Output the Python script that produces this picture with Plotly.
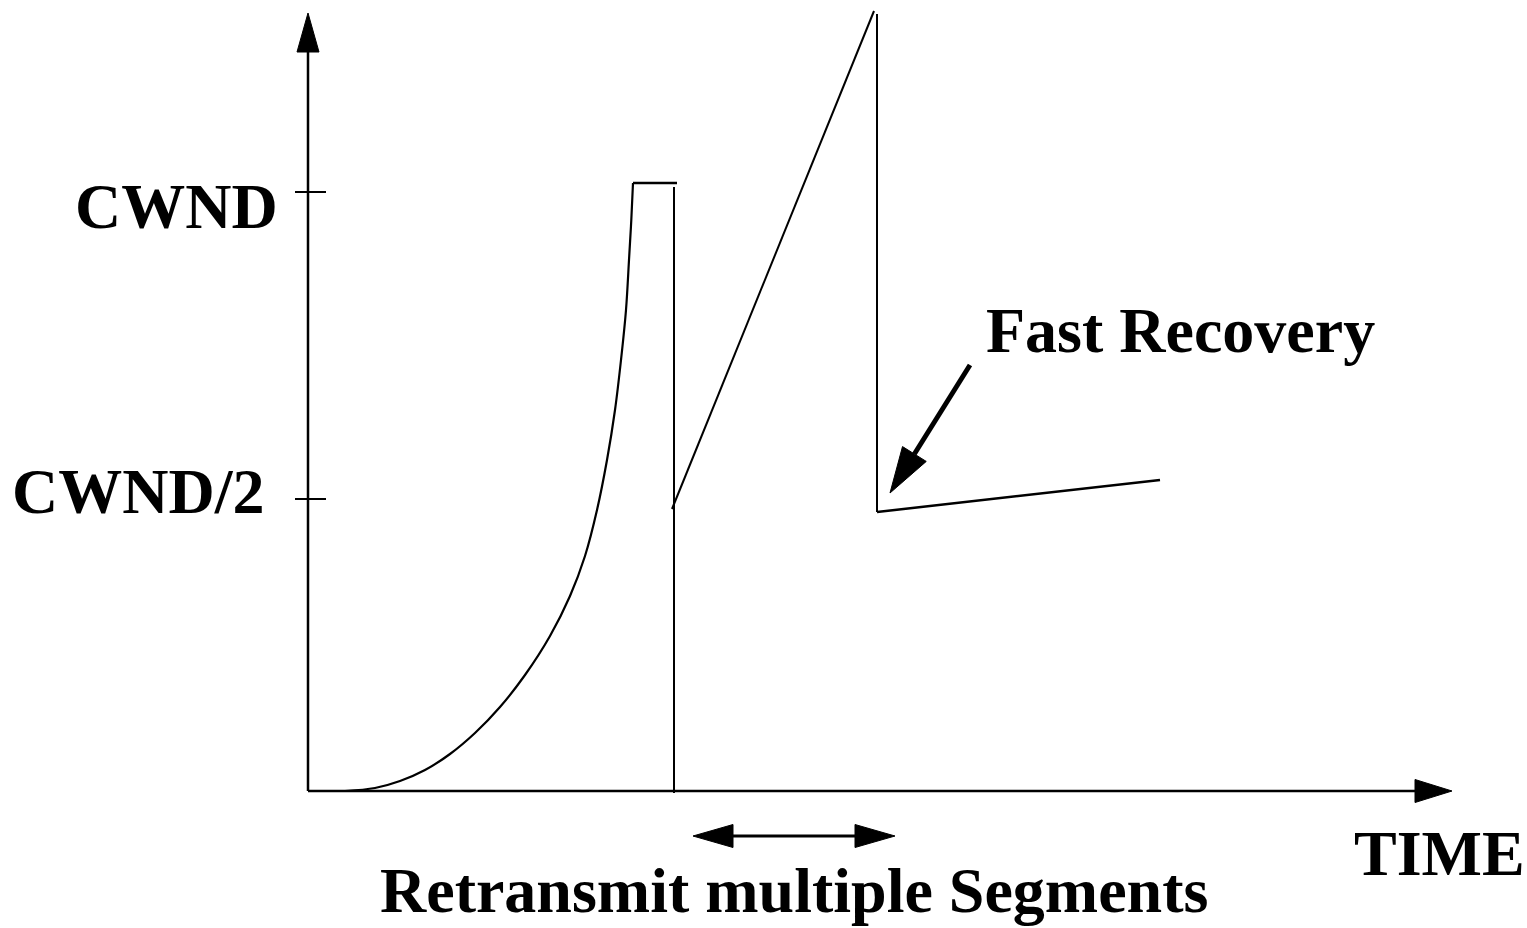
import numpy as np
import plotly.graph_objects as go

# ---------------- data (time units, window units) ----------------
ss_time = [3.7, 6.7, 9.2, 11.7, 14.2, 16.7, 19.2, 21.7, 24.2, 26.2, 27.7, 28.9, 29.9, 30.7, 31.3, 31.8, 32.1, 32.33, 32.5]
ss_cwnd = [0.0, 0.3, 1.0, 2.1, 3.7, 5.8, 8.4, 11.6, 15.5, 19.5, 23.5, 28.1, 33.1, 38.1, 43.1, 48.1, 53.1, 57.1, 60.8]

plateau_time = [32.5, 36.9]
plateau_cwnd = [60.8, 60.8]

timeout_time = [36.6, 36.6]
timeout_cwnd = [60.4, -0.2]

ca_time = [36.4, 56.6]
ca_cwnd = [28.2, 78.0]

drop_time = [56.9, 56.9]
drop_cwnd = [77.7, 27.9]

fr_time = [56.9, 85.2]
fr_cwnd = [27.9, 31.1]

tick_values = [59.9, 29.2]
tick_labels = ["CWND", "CWND/2"]

x_axis_end = 114.4
y_axis_end = 77.8

retx_span = [38.5, 58.7]
retx_level = -4.5

fr_arrow_tail = [66.2, 42.6]
fr_arrow_tip = [58.2, 29.8]

# ---------------- helpers ----------------
BLACK = "black"
FONT = dict(family="Liberation Serif", size=64, color=BLACK, weight="bold")


def head(tip, tail, length, width):
    tx, ty = tip
    sx, sy = tail
    dx, dy = tx - sx, ty - sy
    n = np.hypot(dx, dy)
    ux, uy = dx / n, dy / n
    bx, by = tx - ux * length, ty - uy * length
    px, py = -uy * width / 2, ux * width / 2
    return [tx, bx + px, bx - px, tx], [ty, by + py, by - py, ty], (bx, by)


fig = go.Figure()


def line(xs, ys, w=2):
    fig.add_trace(go.Scatter(x=xs, y=ys, mode="lines", line=dict(color=BLACK, width=w),
                             hoverinfo="skip", showlegend=False))


def arrow(tail, tip, w, length, width):
    hx, hy, base = head(tip, tail, length, width)
    line([tail[0], base[0]], [tail[1], base[1]], w)
    fig.add_trace(go.Scatter(x=hx, y=hy, mode="lines", fill="toself", fillcolor=BLACK,
                             line=dict(color=BLACK, width=1), hoverinfo="skip", showlegend=False))


# axes
arrow([0, 0], [x_axis_end, 0], 2.5, 3.7, 2.3)
arrow([0, 0], [0, y_axis_end], 2.5, 3.9, 2.2)

# ticks crossing the y axis
for v in tick_values:
    line([-1.3, 1.8], [v, v], 2)

# window curve
fig.add_trace(go.Scatter(x=ss_time, y=ss_cwnd, mode="lines",
                         line=dict(color=BLACK, width=2.2, shape="spline", smoothing=1.0),
                         hoverinfo="skip", showlegend=False))
line(plateau_time, plateau_cwnd, 2.5)
line(timeout_time, timeout_cwnd, 2)
line(ca_time, ca_cwnd, 2)
line(drop_time, drop_cwnd, 2)
line(fr_time, fr_cwnd, 2.5)

# fast recovery arrow
arrow(fr_arrow_tail, fr_arrow_tip, 5, 4.6, 2.8)

# double-headed retransmit arrow
mid = [(retx_span[0] + retx_span[1]) / 2, retx_level]
arrow(mid, [retx_span[1], retx_level], 3, 4.0, 2.3)
arrow(mid, [retx_span[0], retx_level], 3, 4.0, 2.3)

# text
annotations = [
    dict(x=-2.8, y=58.5, text=tick_labels[0], xanchor="right", yanchor="middle"),
    dict(x=-4.2, y=30.0, text=tick_labels[1], xanchor="right", yanchor="middle"),
    dict(x=67.6, y=46.1, text="Fast Recovery", xanchor="left", yanchor="middle"),
    dict(x=104.4, y=-6.25, text="TIME", xanchor="left", yanchor="middle"),
    dict(x=48.55, y=-9.9, text="Retransmit multiple Segments", xanchor="center", yanchor="middle"),
]
for a in annotations:
    a.update(showarrow=False, xref="x", yref="y", font=FONT)

fig.update_layout(
    width=1527, height=928,
    margin=dict(l=0, r=0, t=0, b=0),
    paper_bgcolor="white", plot_bgcolor="white",
    xaxis=dict(range=[-30.8, 121.9], visible=False, fixedrange=True),
    yaxis=dict(range=[-13.7, 79.1], visible=False, fixedrange=True),
    annotations=annotations,
    showlegend=False,
)

fig.write_html("out.html", config={"displayModeBar": False, "staticPlot": True},
               post_script="document.body.style.margin='0';document.body.style.overflow='hidden';")
